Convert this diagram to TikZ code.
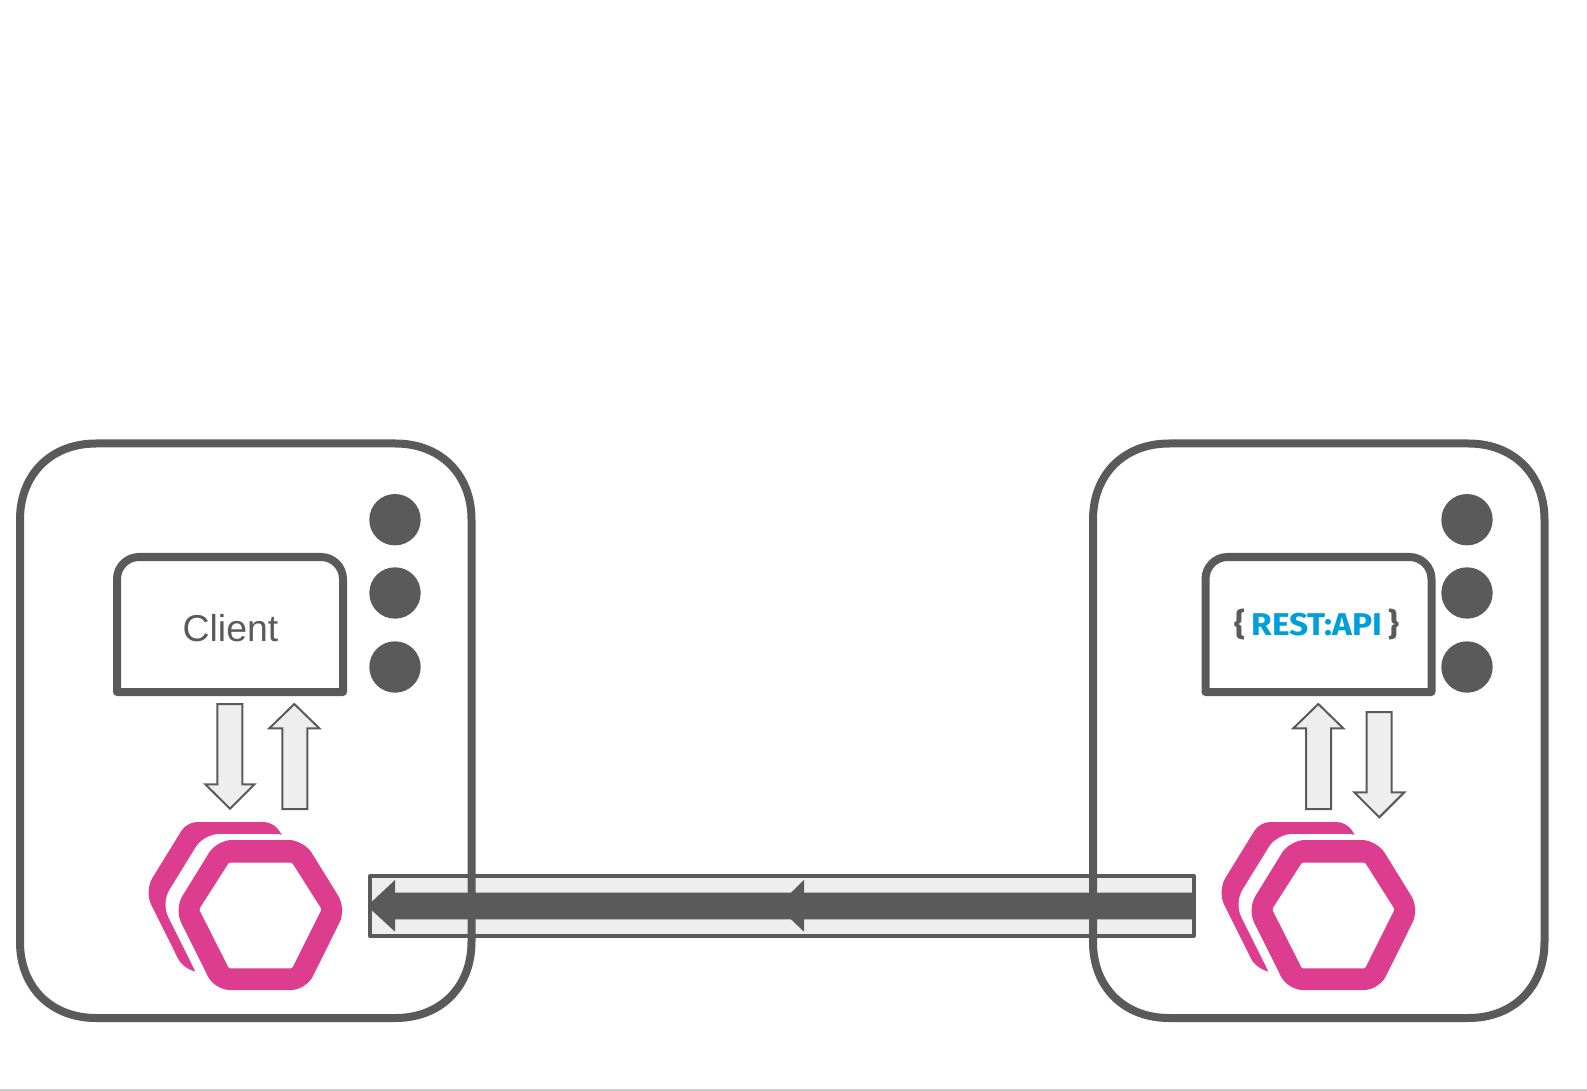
\documentclass[tikz,border=0pt]{standalone}
\usepackage{xcolor}
\usepackage{fontspec}
\setmainfont{Liberation Sans}
\newfontfamily\logofont[FakeStretch=1.065]{Fira Sans}

\definecolor{slate}{HTML}{5A5A5A}
\definecolor{pale}{HTML}{EEEEEE}
\definecolor{hexpink}{HTML}{DC3D8E}
\definecolor{restblue}{HTML}{009FD9}

\tikzset{
    shell/.style={draw=slate, line width=4pt},
    panel/.style={draw=slate, line width=4pt, line join=round},
    led/.style={circle, fill=slate, inner sep=0pt, minimum size=25.7pt},
    fatarrow/.style={draw=slate, fill=pale, line width=1pt, line join=miter},
    channel/.style={draw=slate, fill=pale, line width=2pt, line join=round}
}

% outer frame, in the coordinates of the client side
\newcommand{\shellframe}[1]{
    \begin{scope}[shift={(#1,0)}]
        \draw[shell] (96,443.5) -- (395.5,443.5) .. controls (440.5,443.5) and (471.5,474.5) .. (471.5,519.5) -- (471.5,942) .. controls (471.5,987) and (440.5,1018) .. (395.5,1018) -- (96,1018) .. controls (51,1018) and (20,987) .. (20,942) -- (20,519.5) .. controls (20,474.5) and (51,443.5) .. (96,443.5) -- cycle;
    \end{scope}
}

% one pair of hexagons, in the coordinates of the client side
\newcommand{\hexblock}[1]{
    \begin{scope}[shift={(#1,0)}]
        \fill[hexpink] (230,822) [rounded corners=5pt] -- (273.8,822) -- (295,856.5) [rounded corners=7.5pt] -- (316.3,891) -- (276,972) -- (184.7,972) -- (144.4,891) -- (165.6,856.5) [rounded corners=5pt] -- (186.9,822) -- cycle;
        \fill[white, rounded corners=7.5pt] (247,834) -- (290.8,834) -- (333.3,903) -- (293,984) -- (201.7,984) -- (161.4,903) -- (203.9,834) -- cycle;
        \fill[hexpink, rounded corners=7.5pt] (260,840) -- (303.8,840) -- (346.3,909) -- (306,990) -- (214.7,990) -- (174.4,909) -- (216.9,840) -- cycle;
        \fill[white, rounded corners=0.6pt] (260,862.7) -- (292,862.7) -- (321.5,909.3) -- (292,968.3) -- (229,968.3) -- (199.2,909.3) -- (229,862.7) -- cycle;
    \end{scope}
}

\begin{document}
\begin{tikzpicture}[x=0.5pt, y=-0.5pt]
    \useasboundingbox (0,0) rectangle (1587,1091);

    % Channel between the two sides
    \draw[channel] (370,876) rectangle (1193.7,936);
    \fill[slate] (1193,892.7) -- (804,892.7) -- (804,880) -- (791,892.7) -- (395,892.7) -- (395,880) -- (371,902.5) -- (371,909.5) -- (395,931.7) -- (395,919.3) -- (791,919.3) -- (804,931.7) -- (804,919.3) -- (1193,919.3) -- cycle;

    % Client side
    \shellframe{0}
    \draw[panel] (230,692) -- (117,692) -- (117,620) [rounded corners=11pt] -- (117,557) -- (343,557) -- (343,620) [sharp corners] -- (343,692) -- cycle;
    \node[anchor=base, text=slate, inner sep=0pt] (client) at (230.5,641.5) {\fontsize{18.7}{20}\selectfont Client};
    \node[led] (led1) at (395,519.7) {};
    \node[led] (led2) at (395,593) {};
    \node[led] (led3) at (395,667) {};
    \draw[fatarrow] (217.3,704) -- (242.3,704) -- (242.3,784.3) -- (254.5,784.3) -- (230,808.7) -- (205.3,784.3) -- (217.3,784.3) -- cycle;
    \draw[fatarrow] (294.3,704) -- (319.3,728.3) -- (307.3,728.3) -- (307.3,809) -- (282.3,809) -- (282.3,728.3) -- (269.3,728.3) -- cycle;
    \hexblock{0}

    % Server side
    \shellframe{1073}
    \draw[panel] (1318,692) -- (1205.5,692) -- (1205.5,620) [rounded corners=11pt] -- (1205.5,557) -- (1431.5,557) -- (1431.5,620) [sharp corners] -- (1431.5,692) -- cycle;
    \node[anchor=base, inner sep=0pt] (restapi) at (1317,635) {\logofont\bfseries\fontsize{15.75}{18}\selectfont\textcolor{restblue}{REST:API}};
    \node[anchor=base, inner sep=0pt, text=slate] (lbrace) at (1240,635) {\logofont\bfseries\fontsize{15.75}{18}\selectfont\{};
    \node[anchor=base, inner sep=0pt, text=slate] (rbrace) at (1394,635) {\logofont\bfseries\fontsize{15.75}{18}\selectfont\}};
    \node[led] (led4) at (1467,519.7) {};
    \node[led] (led5) at (1467,593) {};
    \node[led] (led6) at (1467,667) {};
    \draw[fatarrow] (1318.3,704) -- (1343.3,728.3) -- (1331,728.3) -- (1331,809) -- (1306,809) -- (1306,728.3) -- (1293.3,728.3) -- cycle;
    \draw[fatarrow] (1366.7,712) -- (1391.7,712) -- (1391.7,792.3) -- (1404.3,792.3) -- (1379.3,817.3) -- (1354.3,792.3) -- (1366.7,792.3) -- cycle;
    \hexblock{1073}

    % Line along the bottom edge
    \draw[black!20, line width=0.8pt] (0,1090.2) -- (1587,1090.2);
\end{tikzpicture}
\end{document}
